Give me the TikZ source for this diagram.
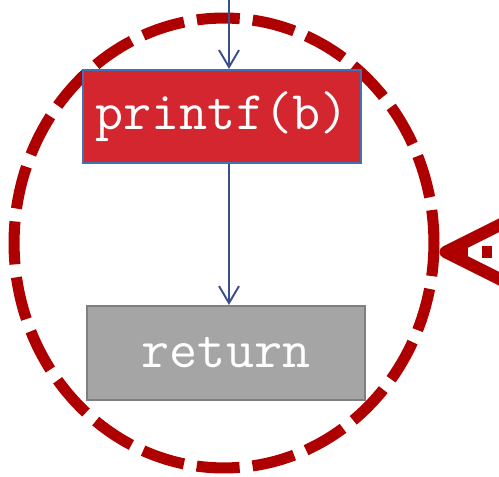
\documentclass[tikz,border=0pt]{standalone}
\usepackage{fontspec}
\usetikzlibrary{arrows.meta,shapes.geometric}
\definecolor{loopred}{HTML}{AE0000}
\definecolor{stmtred}{HTML}{D3262F}
\definecolor{stmtedge}{HTML}{3F72B5}
\definecolor{endgray}{HTML}{A5A5A5}
\definecolor{endedge}{HTML}{7F7F7F}
\definecolor{flowblue}{HTML}{3A4E8C}

\begin{document}
\begin{tikzpicture}[x=0.02cm,y=-0.02cm,
  stmtbox/.style={draw,line width=1.2pt,minimum width=5.56cm,minimum height=1.86cm,inner sep=0pt,text=white,font=\ttfamily\fontsize{31}{36}\selectfont},
  flow/.style={draw=flowblue,line width=1.1pt,-{Straight Barb[length=3.4mm,width=4mm]}}]
\useasboundingbox (0,0) rectangle (499,476);
\node[draw=loopred,ellipse,line width=6.3pt,dash pattern=on 0.86cm off 0.26cm,dash phase=0.2cm,minimum width=8.4cm,minimum height=9.0cm,inner sep=0pt] (loop) at (224,243) {};
\node[stmtbox,draw=stmtedge,fill=stmtred] (printf) at (222,116.5) {printf(b)};
\node[stmtbox,draw=endedge,fill=endgray,minimum height=1.88cm] (ret) at (226,353) {return};
\coordinate (top) at (229,0);
\coordinate (feed) at (540,252);
\draw[flow] (top) -- (top |- printf.north);
\draw[flow] (printf.south -| top) -- (top |- ret.north);
\draw[loopred,line width=7pt,dash pattern=on 0.2cm off 0.28cm,-{Straight Barb[length=1.25cm,width=1.25cm,round]}] (feed) -- (feed -| loop.east);
\end{tikzpicture}
\end{document}
